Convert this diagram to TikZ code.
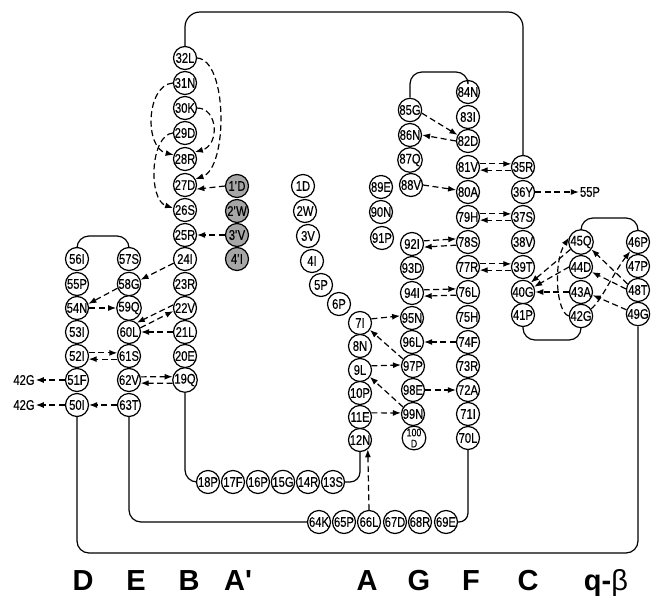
\documentclass[tikz,border=0pt]{standalone}
\usepackage{fontspec}
\setmainfont{Liberation Sans}
\newfontfamily\resfam[FakeStretch=0.8, FakeBold=0.4]{Liberation Sans}
\usetikzlibrary{arrows.meta}
\newcommand\resfont{\resfam\fontsize{14}{14}\selectfont}
\newcommand\strandfont{\fontsize{29}{32}\selectfont\bfseries}
\begin{document}
\begin{tikzpicture}[x=1pt,y=-1pt,
  res/.style={circle, draw, fill=white, line width=1.2pt, minimum size=23pt, inner sep=0pt, font=\resfont},
  prime/.style={res, fill=black!35},
  link/.style={line width=1.2pt, rounded corners=12pt},
  dar/.style={line width=1.2pt, dash pattern=on 6pt off 3.5pt, -{Latex[length=8pt,width=6pt]}},
  tag/.style={font=\resfont, inner sep=1pt},
  strand/.style={font=\strandfont, anchor=base}]
\useasboundingbox (0,0) rectangle (651,595);

% heights of the loop turns
\coordinate (ytop) at (0,12);
\coordinate (yfg) at (0,72);
\coordinate (yde) at (0,236);
\coordinate (ybeta) at (0,218);
\coordinate (ylow) at (0,340);
\coordinate (yout) at (0,553);

% strand D
\node[res] (r56) at (77,259) {56I};
\node[res] (r55) at (77,284) {55P};
\node[res] (r54) at (77,308) {54N};
\node[res] (r53) at (77,332) {53I};
\node[res] (r52) at (77,356) {52I};
\node[res] (r51) at (77,380) {51F};
\node[res] (r50) at (77,405) {50I};
% strand E
\node[res] (r57) at (129,259) {57S};
\node[res] (r58) at (129,284) {58G};
\node[res] (r59) at (129,308) {59Q};
\node[res] (r60) at (129,332) {60L};
\node[res] (r61) at (129,356) {61S};
\node[res] (r62) at (129,380) {62V};
\node[res] (r63) at (129,405) {63T};
% strand B
\node[res] (r32) at (185,58) {32L};
\node[res] (r31) at (185,83) {31N};
\node[res] (r30) at (185,108) {30K};
\node[res] (r29) at (185,133) {29D};
\node[res] (r28) at (185,159) {28R};
\node[res] (r27) at (185,185) {27D};
\node[res] (r26) at (185,210) {26S};
\node[res] (r25) at (185,235) {25R};
\node[res] (r24) at (185,259) {24I};
\node[res] (r23) at (185,284) {23R};
\node[res] (r22) at (185,308) {22V};
\node[res] (r21) at (185,332) {21L};
\node[res] (r20) at (185,356) {20E};
\node[res] (r19) at (185,380) {19Q};
% strand A'
\node[prime] (rp1) at (237,186) {1\textquotesingle D};
\node[prime] (rp2) at (237,211) {2\textquotesingle W};
\node[prime] (rp3) at (237,235) {3\textquotesingle V};
\node[prime] (rp4) at (237,259) {4\textquotesingle I};
% strand A
\node[res] (r1) at (303,186) {1D};
\node[res] (r2) at (305,211) {2W};
\node[res] (r3) at (308,236) {3V};
\node[res] (r4) at (312,261) {4I};
\node[res] (r5) at (321,285) {5P};
\node[res] (r6) at (339,304) {6P};
\node[res] (r7) at (360,323) {7I};
\node[res] (r8) at (360,346) {8N};
\node[res] (r9) at (360,370) {9L};
\node[res] (r10) at (360,393) {10P};
\node[res] (r11) at (360,417) {11E};
\node[res] (r12) at (360,440) {12N};
% lower linkers
\node[res] (r18) at (208,482) {18P};
\node[res] (r17) at (233,482) {17F};
\node[res] (r16) at (258,482) {16P};
\node[res] (r15) at (283,482) {15G};
\node[res] (r14) at (308,482) {14R};
\node[res] (r13) at (333,482) {13S};
\node[res] (r64) at (319,522) {64K};
\node[res] (r65) at (344,522) {65P};
\node[res] (r66) at (369,522) {66L};
\node[res] (r67) at (395,522) {67D};
\node[res] (r68) at (420,522) {68R};
\node[res] (r69) at (446,522) {69E};
% strand G
\node[res] (r85) at (410,110) {85G};
\node[res] (r86) at (410,135) {86N};
\node[res] (r87) at (410,160) {87Q};
\node[res] (r88) at (411,185) {88V};
\node[res] (r89) at (381,187) {89E};
\node[res] (r90) at (381,212) {90N};
\node[res] (r91) at (382,238) {91P};
\node[res] (r92) at (412,244) {92I};
\node[res] (r93) at (412,268) {93D};
\node[res] (r94) at (412,293) {94I};
\node[res] (r95) at (412,318) {95N};
\node[res] (r96) at (412,342) {96L};
\node[res] (r97) at (413,366) {97P};
\node[res] (r98) at (413,390) {98E};
\node[res] (r99) at (413,414) {99N};
\node[res, align=center, font=\resfam\fontsize{11}{11}\selectfont] (r100) at (414,438) {100\\D};
% strand F
\node[res] (r84) at (468,92) {84N};
\node[res] (r83) at (468,117) {83I};
\node[res] (r82) at (468,141) {82D};
\node[res] (r81) at (468,167) {81V};
\node[res] (r80) at (468,192) {80A};
\node[res] (r79) at (468,217) {79H};
\node[res] (r78) at (468,242) {78S};
\node[res] (r77) at (468,267) {77R};
\node[res] (r76) at (468,292) {76L};
\node[res] (r75) at (468,317) {75H};
\node[res] (r74) at (468,342) {74F};
\node[res] (r73) at (468,366) {73R};
\node[res] (r72) at (468,390) {72A};
\node[res] (r71) at (468,414) {71I};
\node[res] (r70) at (468,438) {70L};
% strand C
\node[res] (r35) at (523,167) {35R};
\node[res] (r36) at (523,192) {36Y};
\node[res] (r37) at (523,217) {37S};
\node[res] (r38) at (523,242) {38V};
\node[res] (r39) at (523,267) {39T};
\node[res] (r40) at (523,292) {40G};
\node[res] (r41) at (523,315) {41P};
% q-beta hairpin
\node[res] (r45) at (581,242) {45Q};
\node[res] (r44) at (581,267) {44D};
\node[res] (r43) at (581,292) {43A};
\node[res] (r42) at (581,316) {42G};
\node[res] (r46) at (638,242) {46P};
\node[res] (r47) at (638,266) {47P};
\node[res] (r48) at (638,290) {48T};
\node[res] (r49) at (638,314) {49G};

% partner residues outside the drawing
\node[tag] (g1) at (24,380) {42G};
\node[tag] (g2) at (24,405) {42G};
\node[tag] (t55) at (590,192) {55P};

% backbone connections
\draw[link, rounded corners=15pt] (r32.north) -- (r32 |- ytop) -| (r35.north);
\draw[link] (r85.north) -- (r85 |- yfg) -| (r84.north);
\draw[link] (r56.north) -- (r56 |- yde) -| (r57.north);
\draw[link] (r45.north) -- (r45 |- ybeta) -| (r46.north);
\draw[link] (r41.south) -- (r41 |- ylow) -| (r42.south);
\draw[link] (r50.south) -- (r50 |- yout) -| (r49.south);
\draw[link] (r63.south) |- (r64.west);
\draw[link] (r19.south) |- (r18.west);
\draw[link, rounded corners=10pt] (r13.east) -| (r12.south);
\draw[link, rounded corners=9pt] (r70.south) |- (r69.east);

% hydrogen bonds: B strand hairpin
\draw[dar] (r32.east) .. controls (228,60) and (228,168) .. (r27.30);
\draw[dar] (r30.east) .. controls (218,108) and (220,145) .. (r28.35);
\draw[dar] (r31.west) .. controls (146,85) and (144,148) .. (r28.160);
\draw[dar] (r29.west) .. controls (150,135) and (148,200) .. (r26.170);
\draw[dar] (rp1.west) -- (r27.-20);
\draw[dar] (rp3.west) -- (r25.east);

% D, E, B sheet
\draw[dar] (r24.200) -- (r58.20);
\draw[dar] (r58.200) -- (r54.20);
\draw[dar] (r54.east) -- (r59.west);
\draw[dar] (r22.165) -- (r60.50);
\draw[dar] (r60.20) -- (r22.195);
\draw[dar] (r21.west) -- (r60.east);
\draw[dar] (r52.15) -- (r61.165);
\draw[dar] (r61.195) -- (r52.-15);
\draw[dar] (r62.15) -- (r19.165);
\draw[dar] (r19.195) -- (r62.-15);
\draw[dar] (r63.west) -- (r50.east);
\draw[dar] (r51.west) -- (g1.east);
\draw[dar] (r50.west) -- (g2.east);

% A, G, F, C sheet
\draw[dar] (r7.20) -- (r95.170);
\draw[dar] (r97.145) -- (r7.-35);
\draw[dar] (r9.20) -- (r97.175);
\draw[dar] (r99.145) -- (r9.-35);
\draw[dar] (r11.20) -- (r99.175);
\draw[dar] (r94.15) -- (r76.165);
\draw[dar] (r76.195) -- (r94.-15);
\draw[dar] (r74.west) -- (r96.east);
\draw[dar] (r98.east) -- (r72.west);
\draw[dar] (r85.-15) -- (r82.150);
\draw[dar] (r82.west) -- (r86.east);
\draw[dar] (r81.15) -- (r35.165);
\draw[dar] (r35.195) -- (r81.-15);
\draw[dar] (r88.east) -- (r80.170);
\draw[dar] (r79.15) -- (r37.165);
\draw[dar] (r37.195) -- (r79.-15);
\draw[dar] (r92.15) -- (r78.165);
\draw[dar] (r78.195) -- (r92.-15);
\draw[dar] (r77.15) -- (r39.165);
\draw[dar] (r39.195) -- (r77.-15);
\draw[dar] (r36.east) -- (t55.west);
\draw[dar] (r66.north) -- (r12.-50);

% q-beta hairpin
\draw[dar] (r45.215) -- (r40.50);
\draw[dar] (r44.west) -- (r40.25);
\draw[dar] (r43.west) -- (r40.east);
\draw[dar] (r42.west) .. controls (556,312) and (553,262) .. (r45.160);
\draw[dar] (r48.150) -- (r45.-35);
\draw[dar] (r48.175) -- (r44.-25);
\draw[dar] (r49.160) -- (r43.-15);
\draw[dar] (r42.35) .. controls (602,300) and (612,275) .. (r46.230);

% strand names
\node[strand] (sD) at (83,590) {D};
\node[strand] (sE) at (136,590) {E};
\node[strand] (sB) at (189,590) {B};
\node[strand] (sAp) at (238,590) {A\textquotesingle};
\node[strand] (sA) at (367,590) {A};
\node[strand] (sG) at (419,590) {G};
\node[strand] (sF) at (471,590) {F};
\node[strand] (sC) at (528,590) {C};
\node[strand] (sq) at (606,590) {q-{\mdseries β}};
\end{tikzpicture}
\end{document}
